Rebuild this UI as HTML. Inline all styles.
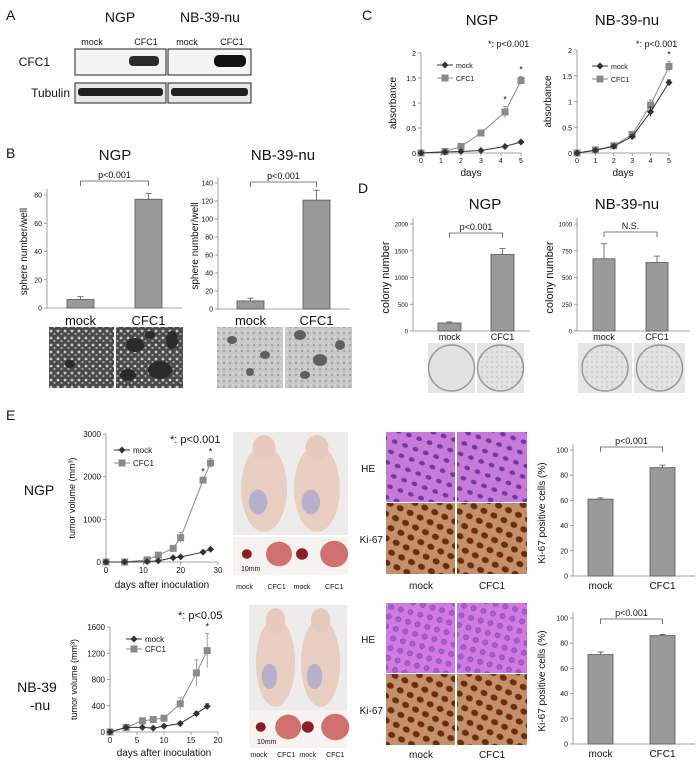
<!DOCTYPE html>
<html><head><meta charset="utf-8"><style>
html,body{margin:0;padding:0;background:#fff;}
svg{display:block;font-family:"Liberation Sans",Arial,sans-serif;}
</style></head><body>
<svg id="fig" width="700" height="763" viewBox="0 0 700 763" xmlns="http://www.w3.org/2000/svg">
<defs>
<pattern id="spkW" width="7" height="7" patternUnits="userSpaceOnUse"><rect width="7" height="7" fill="#4a4a4a"/><circle cx="2" cy="2" r="1.4" fill="#ccc"/><circle cx="5.5" cy="5" r="1.1" fill="#aaa"/></pattern>
<pattern id="spkL" width="6" height="6" patternUnits="userSpaceOnUse"><rect width="6" height="6" fill="#c8c8c8"/><circle cx="2" cy="3" r="1.1" fill="#a0a0a0"/><circle cx="5" cy="1" r="0.8" fill="#e4e4e4"/></pattern>
<pattern id="he" width="11" height="11" patternUnits="userSpaceOnUse" patternTransform="rotate(20)"><rect width="11" height="11" fill="#c77ad8"/><ellipse cx="5" cy="5" rx="3" ry="2.2" fill="#6a3aa5"/></pattern>
<pattern id="he2" width="10" height="10" patternUnits="userSpaceOnUse" patternTransform="rotate(15)"><rect width="10" height="10" fill="#d27ae2"/><circle cx="5" cy="5" r="2.6" fill="#a060cc" stroke="#7f48b0" stroke-width="0.6"/></pattern>
<pattern id="ki" width="11" height="11" patternUnits="userSpaceOnUse" patternTransform="rotate(25)"><rect width="11" height="11" fill="#c59068"/><ellipse cx="5.5" cy="5.5" rx="3.6" ry="3" fill="#6e2c0c"/><circle cx="0.8" cy="10" r="1" fill="#9aa0c0"/></pattern>
<pattern id="col" width="5" height="5" patternUnits="userSpaceOnUse"><rect width="5" height="5" fill="#e2e2e2"/><circle cx="2" cy="2" r="0.5" fill="#777"/></pattern>
</defs>
<g id="root"></g>
</svg>
<script>
// ---------- DATA ----------
const bNgpCats = ['mock','CFC1'];
const bNgpVals = [6, 77];
const bNgpErr = [2, 4];
const bNbVals = [9, 121];
const bNbErr = [3, 11];
const bTicksNgp = [0,20,40,60,80];
const bTicksNb = [0,20,40,60,80,100,120,140];

const cDays = [0,1.2,2,3,4.2,5];
const cNgpMock = [0,0.02,0.03,0.05,0.13,0.22];
const cNgpMockErr = [0,0.01,0.01,0.01,0.02,0.03];
const cNgpCfc = [0,0.03,0.13,0.4,0.82,1.45];
const cNgpCfcErr = [0,0.01,0.02,0.03,0.11,0.08];
const cDaysNb = [0,1,2,3,4,5];
const cNbMock = [0,0.05,0.13,0.32,0.8,1.37];
const cNbMockErr = [0,0.01,0.02,0.02,0.09,0.05];
const cNbCfc = [0,0.06,0.14,0.36,0.93,1.68];
const cNbCfcErr = [0,0.01,0.02,0.03,0.1,0.1];
const cTicksY = [0,0.5,1,1.5,2];
const cTicksX = [0,1,2,3,4,5];

const dNgpVals = [150, 1430];
const dNgpErr = [20, 110];
const dNbVals = [675, 640];
const dNbErr = [140, 60];
const dTicksNgp = [0,500,1000,1500,2000];
const dTicksNb = [0,250,500,750,1000];

const eNgpDays = [0,5,11,14,18,20,26,28];
const eNgpMock = [0,0,10,30,100,120,230,300];
const eNgpMockErr = [0,0,5,10,20,20,30,30];
const eNgpCfc = [0,0,50,160,320,570,1920,2320];
const eNgpCfcErr = [0,0,20,30,40,120,40,110];
const eNgpTicksY = [0,1000,2000,3000];
const eNgpTicksX = [0,10,20,30];
const eNbDays = [0,3,6,8,10,13,16,18];
const eNbMock = [0,70,70,60,90,130,280,390];
const eNbMockErr = [0,10,10,10,15,20,30,40];
const eNbCfc = [0,70,170,190,210,430,900,1240];
const eNbCfcErr = [0,10,20,20,30,90,200,260];
const eNbTicksY = [0,400,800,1200,1600];
const eNbTicksX = [0,5,10,15,20];

const kNgpVals = [61, 86];
const kNgpErr = [1, 2];
const kNbVals = [71, 86];
const kNbErr = [2, 1];
const kTicks = [0,20,40,60,80,100];

// ---------- HELPERS ----------
const NS='http://www.w3.org/2000/svg';
const root=document.getElementById('root');
function el(tag, attrs, parent, name){
  const e=document.createElementNS(NS,tag);
  for(const k in attrs) e.setAttribute(k, attrs[k]);
  
  
  (parent||root).appendChild(e);
  return e;
}
function txt(x,y,s,size,name,anchor,parent,extra){
  const a={x:x,y:y,'font-size':size,'text-anchor':anchor||'middle',fill:'#111'};
  if(extra) for(const k in extra) a[k]=extra[k];
  const t=el('text',a,parent,name);
  t.textContent=s;
  return t;
}
function vtxt(x,y,s,size,name,parent){
  return txt(x,y,s,size,name,'middle',parent,{transform:'rotate(-90 '+x+' '+y+')'});
}

function barChart(o){
  const g=el('g',{},root,o.name);
  const sy=v=>o.y0-(v/o.ymax)*(o.y0-o.ytop);
  const tf=o.tickFs||7;
  el('line',{x1:o.ax,y1:o.ytop-6,x2:o.ax,y2:o.y0,stroke:'#888','stroke-width':0.8},g,'y-axis');
  el('line',{x1:o.ax,y1:o.y0,x2:o.axEnd,y2:o.y0,stroke:'#888','stroke-width':0.8},g,'x-axis');
  o.ticks.forEach(t=>{
    el('line',{x1:o.ax-3,y1:sy(t),x2:o.ax,y2:sy(t),stroke:'#888','stroke-width':0.8},g,'y-tick');
    txt(o.ax-5,sy(t)+2.5,String(t),tf,'y-tick-label','end',g);
  });
  o.vals.forEach((v,i)=>{
    const x=o.bx[i];
    el('rect',{x:x,y:sy(v),width:o.bw,height:o.y0-sy(v),fill:'#9a9a9a',stroke:'#555','stroke-width':0.8},g,'bar-'+o.cats[i].toLowerCase());
    const ex=x+o.bw/2, et=sy(v+o.err[i]);
    el('line',{x1:ex,y1:sy(v),x2:ex,y2:et,stroke:'#555','stroke-width':0.8},g,'error-bar');
    el('line',{x1:ex-3,y1:et,x2:ex+3,y2:et,stroke:'#555','stroke-width':0.8},g,'error-cap');
    txt(ex,o.labY,o.cats[i],o.labSize,'x-category-label','middle',g);
  });
  const c0=o.bx[0]+o.bw/2,c1=o.bx[1]+o.bw/2;
  el('path',{d:'M'+c0+' '+(o.brY+5)+'V'+o.brY+'H'+c1+'V'+(o.brY+5),fill:'none',stroke:'#555','stroke-width':0.8},g,'significance-bracket');
  txt((c0+c1)/2,o.brY-3,o.pText,9,'p-value-label','middle',g);
  vtxt(o.ylx,(o.ytop+o.y0)/2,o.ylabel,o.ylSize||10,'y-axis-title',g);
}

function lineChart(o){
  const g=el('g',{},root,o.name);
  const sx=v=>o.x0+(v/o.xmax)*(o.xEnd-o.x0);
  const sy=v=>o.y0-(v/o.ymax)*(o.y0-o.ytop);
  el('line',{x1:o.x0,y1:o.ytop,x2:o.x0,y2:o.y0,stroke:'#888','stroke-width':0.8},g,'y-axis');
  el('line',{x1:o.x0,y1:o.y0,x2:o.xEnd,y2:o.y0,stroke:'#888','stroke-width':0.8},g,'x-axis');
  o.ty.forEach(t=>{
    el('line',{x1:o.x0-3,y1:sy(t),x2:o.x0,y2:sy(t),stroke:'#888','stroke-width':0.8},g,'y-tick');
    txt(o.x0-5,sy(t)+3,String(t),o.fs,'y-tick-label','end',g);
  });
  o.tx.forEach(t=>{
    el('line',{x1:sx(t),y1:o.y0,x2:sx(t),y2:o.y0+3,stroke:'#888','stroke-width':0.8},g,'x-tick');
    txt(sx(t),o.y0+o.fs+3,String(t),o.fs,'x-tick-label','middle',g);
  });
  const series=[[o.cx,o.cfc,o.cfcErr,'#8a8a8a','cfc1'],[o.mx,o.mock,o.mockErr,'#333','mock']];
  series.forEach(s=>{
    const pts=s[1].map((v,i)=>sx(s[0][i])+','+sy(v)).join(' ');
    el('polyline',{points:pts,fill:'none',stroke:s[3],'stroke-width':1},g,'line-'+s[4]);
    s[1].forEach((v,i)=>{
      const x=sx(s[0][i]),y=sy(v),e=s[2][i];
      if(e>0){
        el('line',{x1:x,y1:sy(v-e),x2:x,y2:sy(v+e),stroke:s[3],'stroke-width':0.8},g,'error-bar');
        el('line',{x1:x-2,y1:sy(v+e),x2:x+2,y2:sy(v+e),stroke:s[3],'stroke-width':0.8},g,'error-cap');
      }
      if(s[4]==='mock') el('path',{d:'M'+x+' '+(y-3.5)+'L'+(x+3.5)+' '+y+'L'+x+' '+(y+3.5)+'L'+(x-3.5)+' '+y+'Z',fill:'#333'},g,'point-mock');
      else el('rect',{x:x-3.5,y:y-3.5,width:7,height:7,fill:'#8a8a8a'},g,'point-cfc1');
    });
  });
  o.stars.forEach(i=>{
    const v=o.cfc[i]+o.cfcErr[i];
    txt(sx(o.cx[i]),sy(v)-4,'*',9,'significance-star','middle',g);
  });
  const lg=el('g',{},g,'legend');
  el('line',{x1:o.lx,y1:o.ly,x2:o.lx+16,y2:o.ly,stroke:'#333','stroke-width':1},lg,'legend-line-mock');
  el('path',{d:'M'+(o.lx+8)+' '+(o.ly-3.5)+'l3.5 3.5l-3.5 3.5l-3.5-3.5z',fill:'#333'},lg,'legend-marker-mock');
  txt(o.lx+19,o.ly+3,'mock',o.fs,'legend-entry-mock','start',lg);
  el('line',{x1:o.lx,y1:o.ly+o.lgap,x2:o.lx+16,y2:o.ly+o.lgap,stroke:'#8a8a8a','stroke-width':1},lg,'legend-line-cfc1');
  el('rect',{x:o.lx+4.5,y:o.ly+o.lgap-3.5,width:7,height:7,fill:'#8a8a8a'},lg,'legend-marker-cfc1');
  txt(o.lx+19,o.ly+o.lgap+3,'CFC1',o.fs,'legend-entry-cfc1','start',lg);
  txt(o.px,o.py,o.ptext,o.pfs,'p-value-note','start',g);
  vtxt(o.ylx,(o.ytop+o.y0)/2,o.ylabel,o.ylfs,'y-axis-title',g);
  txt((o.x0+o.xEnd)/2,o.xly,o.xlabel,o.xlfs,'x-axis-title','middle',g);
}

function panelLetter(x,y,s){ txt(x,y,s,14,'panel-label-'+s.toLowerCase(),'start'); }

// ---------- PANEL A ----------
panelLetter(6,20,'A');
txt(120,22,'NGP',14,'blot-title-ngp');
txt(210,22,'NB-39-nu',14,'blot-title-nb39nu');
[[92,'mock'],[146,'CFC1'],[187,'mock'],[232,'CFC1']].forEach(a=>txt(a[0],45,a[1],9,'lane-label'));
txt(50,66,'CFC1',12,'blot-row-label-cfc1','end');
txt(70,97,'Tubulin',12,'blot-row-label-tubulin','end');
[[75,91],[168,83]].forEach((b,i)=>{
  el('rect',{x:b[0],y:49,width:b[1],height:26,fill:'#f4f4f4',stroke:'#222','stroke-width':1},root,'blot-cfc1-box');
  el('rect',{x:b[0],y:83,width:b[1],height:20,fill:'#e8e8e8',stroke:'#222','stroke-width':1},root,'blot-tubulin-box');
  el('rect',{x:b[0]+3,y:88,width:b[1]-6,height:8,rx:3,fill:'#202020'},root,'tubulin-band');
});
el('rect',{x:129,y:56,width:30,height:10,rx:4,fill:'#2a2a2a'},root,'cfc1-band-ngp');
el('rect',{x:214,y:55,width:32,height:12,rx:5,fill:'#111'},root,'cfc1-band-nb39nu');

// ---------- PANEL B ----------
panelLetter(6,158,'B');
txt(115,160,'NGP',15,'chart-title-b-ngp');
txt(283,160,'NB-39-nu',15,'chart-title-b-nb39nu');
barChart({name:'sphere-chart-ngp',ax:47,axEnd:182,y0:308,ytop:195,ymax:80,ticks:bTicksNgp,vals:bNgpVals,err:bNgpErr,cats:bNgpCats,bx:[67,135],bw:27,labY:325,labSize:13,brY:181,pText:'p<0.001',ylx:27,ylabel:'sphere number/well',ylSize:10});
barChart({name:'sphere-chart-nb39nu',ax:218,axEnd:350,y0:309,ytop:183,ymax:140,ticks:bTicksNb,vals:bNbVals,err:bNbErr,cats:bNgpCats,bx:[237,303],bw:27,labY:325,labSize:13,brY:182,pText:'p<0.001',ylx:198,ylabel:'sphere number/well',ylSize:10});
el('rect',{x:49,y:327,width:65,height:61,fill:'url(#spkW)'},root,'sphere-image-ngp-mock');
el('rect',{x:116,y:327,width:67,height:61,fill:'url(#spkW)'},root,'sphere-image-ngp-cfc1');
[[135,345,9,7],[160,370,12,9],[172,340,6,9],[128,375,8,6],[150,335,5,4]].forEach(c=>el('ellipse',{cx:c[0],cy:c[1],rx:c[2],ry:c[3],fill:'#2a2a2a'},root,'sphere'));
el('ellipse',{cx:70,cy:364,rx:5,ry:4,fill:'#2a2a2a'},root,'sphere');
el('rect',{x:217,y:327,width:66,height:61,fill:'url(#spkL)'},root,'sphere-image-nb-mock');
el('rect',{x:285,y:327,width:67,height:61,fill:'url(#spkL)'},root,'sphere-image-nb-cfc1');
[[232,340,5,4],[265,355,5,4],[250,372,4,4],[300,335,6,5],[320,360,7,6],[340,345,5,5],[305,375,5,4]].forEach(c=>el('ellipse',{cx:c[0],cy:c[1],rx:c[2],ry:c[3],fill:'#606060'},root,'sphere'));

// ---------- PANEL C ----------
panelLetter(362,20,'C');
txt(482,25,'NGP',15,'chart-title-c-ngp');
txt(627,25,'NB-39-nu',15,'chart-title-c-nb39nu');
lineChart({name:'absorbance-chart-ngp',x0:421,xEnd:521,xmax:5,y0:153,ytop:53,ymax:2,ty:cTicksY,tx:cTicksX,fs:7,mx:cDays,cx:cDays,mock:cNgpMock,mockErr:cNgpMockErr,cfc:cNgpCfc,cfcErr:cNgpCfcErr,stars:[4,5],lx:437,ly:65,lgap:13,px:488,py:47,ptext:'*: p<0.001',pfs:9,ylx:396,ylabel:'absorbance',ylfs:10,xly:176,xlabel:'days',xlfs:10});
lineChart({name:'absorbance-chart-nb39nu',x0:577,xEnd:669,xmax:5,y0:153,ytop:50,ymax:2,ty:cTicksY,tx:cTicksX,fs:7,mx:cDaysNb,cx:cDaysNb,mock:cNbMock,mockErr:cNbMockErr,cfc:cNbCfc,cfcErr:cNbCfcErr,stars:[5],lx:592,ly:66,lgap:13,px:636,py:47,ptext:'*: p<0.001',pfs:9,ylx:551,ylabel:'absorbance',ylfs:10,xly:176,xlabel:'days',xlfs:10});

// ---------- PANEL D ----------
panelLetter(358,193,'D');
txt(485,209,'NGP',15,'chart-title-d-ngp');
txt(627,209,'NB-39-nu',15,'chart-title-d-nb39nu');
barChart({name:'colony-chart-ngp',ax:413,axEnd:530,y0:331,ytop:224,ymax:2000,ticks:dTicksNgp,vals:dNgpVals,err:dNgpErr,cats:bNgpCats,bx:[438,491],bw:23,labY:340,labSize:9,brY:233,pText:'p<0.001',ylx:389,ylabel:'colony number',ylSize:11,tickFs:6});
barChart({name:'colony-chart-nb39nu',ax:577,axEnd:690,y0:331,ytop:224,ymax:1000,ticks:dTicksNb,vals:dNbVals,err:dNbErr,cats:bNgpCats,bx:[593,646],bw:22,labY:340,labSize:9,brY:232,pText:'N.S.',ylx:553,ylabel:'colony number',ylSize:11,tickFs:6});
[[428,47],[477,47],[578,54],[634,51]].forEach((b,i)=>{
  el('rect',{x:b[0],y:343,width:b[1],height:50,fill:'#e6e6e6'},root,'colony-plate-image');
  el('circle',{cx:b[0]+b[1]/2,cy:368,r:23,fill:i===0?'#e2e2e2':'url(#col)',stroke:'#999','stroke-width':1.5},root,'colony-plate');
});

// ---------- PANEL E ----------
panelLetter(6,420,'E');
txt(39,495,'NGP',14,'row-label-ngp');
txt(37,692,'NB-39',14,'row-label-nb39');
txt(40,710,'-nu',14,'row-label-nu');
lineChart({name:'tumor-volume-chart-ngp',x0:106,xEnd:218,xmax:30,y0:562,ytop:434,ymax:3000,ty:eNgpTicksY,tx:eNgpTicksX,fs:8,mx:eNgpDays,cx:eNgpDays,mock:eNgpMock,mockErr:eNgpMockErr,cfc:eNgpCfc,cfcErr:eNgpCfcErr,stars:[6,7],lx:114,ly:450,lgap:13,px:170,py:443,ptext:'*: p<0.001',pfs:11,ylx:75,ylabel:'tumor volume (mm³)',ylfs:9,xly:588,xlabel:'days after inoculation',xlfs:10});
lineChart({name:'tumor-volume-chart-nb39nu',x0:110,xEnd:218,xmax:20,y0:732,ytop:627,ymax:1600,ty:eNbTicksY,tx:eNbTicksX,fs:8,mx:eNbDays,cx:eNbDays,mock:eNbMock,mockErr:eNbMockErr,cfc:eNbCfc,cfcErr:eNbCfcErr,stars:[7],lx:126,ly:639,lgap:10,px:178,py:619,ptext:'*: p<0.05',pfs:11,ylx:77,ylabel:'tumor volume (mm³)',ylfs:9,xly:756,xlabel:'days after inoculation',xlfs:10});

function mousePhoto(x,y,w,h,ty,lx,name){
  el('rect',{x:x,y:y,width:w,height:h,fill:'#eeeceb'},root,name+'-mouse-photo');
  [x+w*0.27,x+w*0.73].forEach(cx=>{
    el('ellipse',{cx:cx,cy:y+h*0.55,rx:w*0.2,ry:h*0.42,fill:'#e9cfc2'},root,'mouse-body');
    el('ellipse',{cx:cx,cy:y+h*0.15,rx:w*0.1,ry:h*0.12,fill:'#e6cbbd'},root,'mouse-head');
    el('ellipse',{cx:cx-6,cy:y+h*0.68,rx:w*0.08,ry:h*0.12,fill:'#b8b0c8'},root,'tumor-bulge');
  });
  el('rect',{x:x,y:ty,width:w,height:38,fill:'#f5f2f0'},root,name+'-tumor-photo');
  [[0.12,5],[0.4,13],[0.6,6],[0.88,14]].forEach(t=>el('ellipse',{cx:x+w*t[0],cy:ty+17,rx:t[1],ry:t[1]*0.95,fill:t[1]>8?'#d07070':'#8a1e28'},root,'excised-tumor'));
  txt(x+8,ty+34,'10mm',7,'scale-bar-label','start');
  [[0.1,'mock'],[0.38,'CFC1'],[0.6,'mock'],[0.88,'CFC1']].forEach(l=>txt(x+w*l[0],lx,l[1],7,'tumor-label'));
}
mousePhoto(233,432,115,103,537,589,'ngp');
mousePhoto(249,605,98,105,710,757,'nb39nu');

function histo(y1,y2,ly,pat,name){
  el('rect',{x:386,y:y1,width:69,height:70,fill:'url(#'+pat+')'},root,name+'-he-mock');
  el('rect',{x:457,y:y1,width:70,height:70,fill:'url(#'+pat+')'},root,name+'-he-cfc1');
  el('rect',{x:386,y:y2,width:69,height:71,fill:'url(#ki)'},root,name+'-ki67-mock');
  el('rect',{x:457,y:y2,width:70,height:71,fill:'url(#ki)'},root,name+'-ki67-cfc1');
  txt(375,y1+40,'HE',10,'row-label-he','end');
  txt(383,y2+40,'Ki-67',10,'row-label-ki67','end');
  txt(421,ly,'mock',10,'histo-label-mock');
  txt(492,ly,'CFC1',10,'histo-label-cfc1');
}
histo(432,503,589,'he','ngp');
histo(603,674,758,'he2','nb39nu');

barChart({name:'ki67-chart-ngp',ax:573,axEnd:695,y0:576,ytop:450,ymax:100,ticks:kTicks,vals:kNgpVals,err:kNgpErr,cats:bNgpCats,bx:[588,650],bw:25,labY:589,labSize:10,brY:447,pText:'p<0.001',ylx:545,ylabel:'Ki-67 positive cells (%)',ylSize:10});
barChart({name:'ki67-chart-nb39nu',ax:573,axEnd:695,y0:744,ytop:618,ymax:100,ticks:kTicks,vals:kNbVals,err:kNbErr,cats:bNgpCats,bx:[588,650],bw:25,labY:757,labSize:10,brY:619,pText:'p<0.001',ylx:545,ylabel:'Ki-67 positive cells (%)',ylSize:10});
</script>
</body></html>
